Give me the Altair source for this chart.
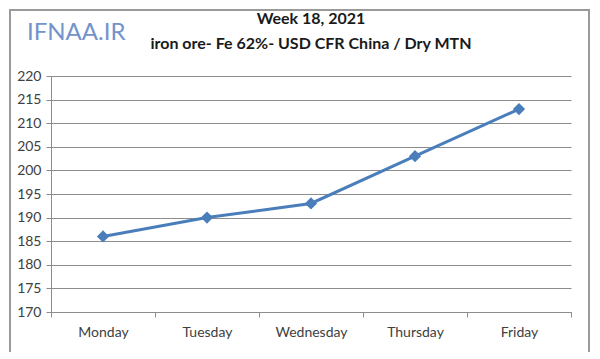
import altair as alt
import pandas as pd

days = ["Monday", "Tuesday", "Wednesday", "Thursday", "Friday"]
prices = [186, 190, 193, 203, 213]
y_ticks = [170, 175, 180, 185, 190, 195, 200, 205, 210, 215, 220]
title_text = "Week 18, 2021"
subtitle_text = "iron ore- Fe 62%- USD CFR China / Dry MTN"
watermark = "IFNAA.IR"

df = pd.DataFrame({"day": days, "price": prices})
one = pd.DataFrame({"t": [watermark], "a": [title_text], "b": [subtitle_text]})

LINE = "#4a7ebb"
GRID = "#8c8c8c"
LABEL = "#404040"
FONT = "Lato"

x_enc = alt.X("day:N", sort=days, title=None,
              scale=alt.Scale(paddingInner=0, paddingOuter=0),
              axis=alt.Axis(labelAngle=0, tickBand="extent", domainColor=GRID,
                            tickColor=GRID, tickSize=5, labelPadding=8,
                            labelFont=FONT, labelFontSize=14, labelColor=LABEL,
                            grid=False))
y_enc = alt.Y("price:Q", title=None,
              scale=alt.Scale(domain=[170, 220], nice=False, zero=False),
              axis=alt.Axis(values=y_ticks, domainColor=GRID, tickColor=GRID,
                            tickSize=5, labelPadding=5, gridColor=GRID,
                            gridWidth=1, labelFont=FONT, labelFontSize=14,
                            labelColor=LABEL))

base = alt.Chart(df)
line = base.mark_line(color=LINE, strokeWidth=3).encode(x=x_enc, y=y_enc)
pts = base.mark_point(shape="diamond", filled=True, size=150, color=LINE,
                      opacity=1).encode(x=x_enc, y=y_enc)

wm = alt.Chart(one).mark_text(font=FONT, fontSize=24, color="#7393cc",
                              align="left", baseline="middle").encode(
    text="t:N", x=alt.value(-24), y=alt.value(-43))

t1 = alt.Chart(one).mark_text(font=FONT, fontSize=16, fontWeight="bold",
                              color="#1a1a1a", align="center",
                              baseline="middle").encode(
    text="a:N", x=alt.value(260), y=alt.value(-57))
t2 = alt.Chart(one).mark_text(font=FONT, fontSize=16, fontWeight="bold",
                              color="#1a1a1a", align="center",
                              baseline="middle").encode(
    text="b:N", x=alt.value(260), y=alt.value(-32))

border = alt.Chart(one).mark_rect(fill=None, stroke="#9a9a9a", strokeWidth=2,
                                  clip=False).encode(
    x=alt.value(-41), x2=alt.value(538), y=alt.value(-66), y2=alt.value(277))

chart = alt.layer(border, line, pts, wm, t1, t2).properties(
    width=520, height=236,
    autosize=alt.AutoSizeParams(type="none"),
    padding={"left": 43, "top": 68, "right": 20, "bottom": 40},
    background="white",
).configure_view(strokeWidth=0)

chart.save("out.html", embed_options={"renderer": "svg", "actions": False})
